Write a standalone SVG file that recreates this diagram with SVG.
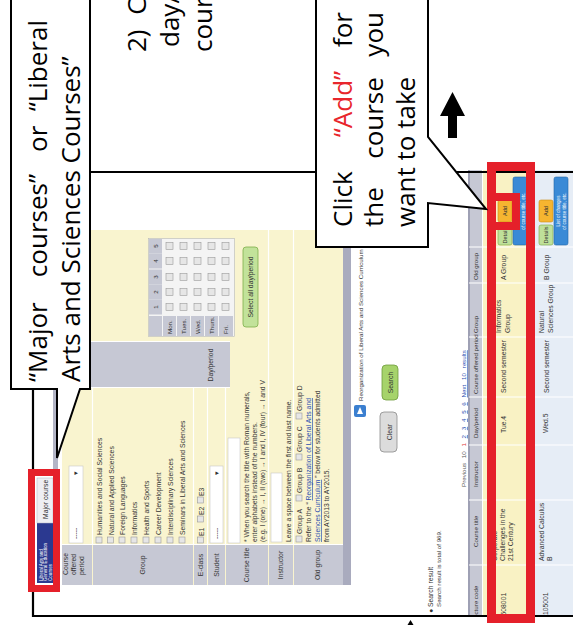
<svg xmlns="http://www.w3.org/2000/svg" width="573" height="625" viewBox="0 0 573 625">
<defs>
<style>
.t{font-family:"Liberation Sans",Arial,sans-serif;font-size:6.8px;fill:#333}
.s{font-size:6.2px}
.lk{fill:#2a4fb0;text-decoration:underline}
.lab{fill:#c6c8d4}
.cb{fill:#e6e6e6;stroke:#9a9a9a;stroke-width:0.6}
.sep{stroke:#fff;stroke-width:1.2}
.call{font-family:"Open Sans",sans-serif;font-size:26px;fill:#000}
.red{fill:none;stroke:#e5202a}
.co{fill:#fff;stroke:#000;stroke-width:2}
.dd{fill:#fff;stroke:#c8c8c8;stroke-width:0.6}
.det{fill:#bfe09a;stroke:#7aa840;stroke-width:0.6}
.add{fill:#f6b530;stroke:#c98a12;stroke-width:0.6}
.lst{fill:#3a8ad6;stroke:#2266aa;stroke-width:0.6}
.bt{font-family:"Liberation Sans",Arial,sans-serif;font-size:5.5px;fill:#333}
.wt{font-family:"Liberation Sans",Arial,sans-serif;font-size:4.6px;fill:#fff}
</style>
<clipPath id="shotclip"><rect x="8" y="0" width="620" height="573"/></clipPath>
</defs>
<rect width="573" height="625" fill="#fff"/>

<g id="screenshot" transform="translate(0,625) rotate(-90)">
<g clip-path="url(#shotclip)">
<!-- tabs -->
<g id="tabs">
<rect x="33" y="53" width="362" height="5" fill="#b3b5c6"/>
<rect x="42" y="37" width="60" height="16" fill="#2b3990"/>
<rect x="102" y="37" width="45" height="16" fill="#eeeef3" stroke="#b0b2c0" stroke-width="0.5"/>
<text class="wt" x="44" y="42.5">Liberal Arts and</text>
<text class="wt" x="44" y="47">General Education</text>
<text class="wt" x="44" y="51.5">Courses</text>
<text class="t" x="106" y="48" fill="#223">Major course</text>
</g>
<!-- search form -->
<g id="form">
<rect x="40" y="62" width="355" height="281" fill="#f9f4cf"/>
<rect class="lab" x="40" y="62" width="40" height="30"/>
<rect class="lab" x="40" y="93" width="40" height="100"/>
<rect class="lab" x="40" y="194" width="40" height="13"/>
<rect class="lab" x="40" y="208" width="40" height="17"/>
<rect class="lab" x="40" y="226" width="40" height="42"/>
<rect class="lab" x="40" y="269" width="40" height="24"/>
<rect class="lab" x="40" y="294" width="40" height="49"/>
<rect class="lab" x="238" y="62" width="45" height="168"/>
<path class="sep" d="M80 92.5H237M80 193.5H237M80 207.5H237M80 225.5H237M80 268.5H395M80 293.5H395M80.5 62V343M237.5 62V230M283.5 62V230"/>
<text class="t" x="50" y="68">Course</text>
<text class="t" x="50" y="76">offered</text>
<text class="t" x="50" y="84">period</text>
<text class="t" x="60" y="145" text-anchor="middle">Group</text>
<text class="t" x="60" y="203" text-anchor="middle">E-class</text>
<text class="t" x="60" y="219" text-anchor="middle">Student</text>
<text class="t" x="60" y="249" text-anchor="middle">Course title</text>
<text class="t" x="60" y="283" text-anchor="middle">Instructor</text>
<text class="t" x="60" y="320" text-anchor="middle">Old group</text>
<text class="t" x="260" y="213" text-anchor="middle">Day/period</text>
<rect class="dd" x="82" y="69" width="77" height="14"/>
<text class="t" x="86" y="78">-----</text>
<text class="t" x="150" y="78">▾</text>
<rect class="cb" x="82" y="96" width="6" height="6"/><text class="t" x="90" y="102">Humanities and Social Sciences</text>
<rect class="cb" x="82" y="107.5" width="6" height="6"/><text class="t" x="90" y="113.5">Natural and Applied Sciences</text>
<rect class="cb" x="82" y="119" width="6" height="6"/><text class="t" x="90" y="125">Foreign Languages</text>
<rect class="cb" x="82" y="131" width="6" height="6"/><text class="t" x="90" y="137">Informatics</text>
<rect class="cb" x="82" y="143" width="6" height="6"/><text class="t" x="90" y="149">Health and Sports</text>
<rect class="cb" x="82" y="155" width="6" height="6"/><text class="t" x="90" y="161">Career Development</text>
<rect class="cb" x="82" y="167" width="6" height="6"/><text class="t" x="90" y="173">Interdisciplinary Sciences</text>
<rect class="cb" x="82" y="179" width="6" height="6"/><text class="t" x="90" y="185">Seminars in Liberal Arts and Sciences</text>
<rect class="cb" x="82" y="197.5" width="6" height="6"/><text class="t" x="89" y="204">E1</text>
<rect class="cb" x="103" y="197.5" width="6" height="6"/><text class="t" x="110" y="204">E2</text>
<rect class="cb" x="122" y="197.5" width="6" height="6"/><text class="t" x="129" y="204">E3</text>
<rect class="dd" x="82" y="210" width="77" height="13"/>
<text class="t" x="86" y="219">-----</text>
<text class="t" x="150" y="219">▾</text>
<rect class="dd" x="82" y="228" width="105" height="12"/>
<text class="t" x="83" y="249">* When you search the title with Roman numerals,</text>
<text class="t" x="83" y="257">enter alphabets instead of the numbers.</text>
<text class="t" x="83" y="265">(e.g. I (one) → I, II (two) → I and I, IV (four) → I and V</text>
<rect class="dd" x="83" y="271" width="69" height="11"/>
<text class="t" x="83" y="291">Leave a space between the first and last name.</text>
<rect class="cb" x="83" y="296" width="6" height="6"/><text class="t" x="91" y="302">Group A</text>
<rect class="cb" x="124" y="296" width="6" height="6"/><text class="t" x="132" y="302">Group B</text>
<rect class="cb" x="165" y="296" width="6" height="6"/><text class="t" x="173" y="302">Group C</text>
<rect class="cb" x="206" y="296" width="6" height="6"/><text class="t" x="214" y="302">Group D</text>
<text class="t" x="83" y="311">Refer to the “ <tspan class="lk">Reorganization of Liberal Arts and</tspan></text>
<text class="t" x="83" y="320"><tspan class="lk">Sciences Curriculum</tspan> ” below for students admitted</text>
<text class="t" x="83" y="329">from AY2013 to AY2015.</text>
<!-- day/period grid -->
<rect x="288.5" y="148.5" width="98" height="86" fill="#f4f4f4" stroke="#b8b8b8" stroke-width="0.6"/>
<rect class="lab" x="289" y="149" width="20" height="13"/>
<rect class="lab" x="310.5" y="149" width="15" height="13"/>
<rect class="lab" x="325.5" y="149" width="15" height="13"/>
<rect class="lab" x="340.5" y="149" width="15" height="13"/>
<rect class="lab" x="356.5" y="149" width="15" height="13"/>
<rect class="lab" x="371.5" y="149" width="14.5" height="13"/>
<text class="t s" x="318" y="158" text-anchor="middle">1</text>
<text class="t s" x="333" y="158" text-anchor="middle">2</text>
<text class="t s" x="348" y="158" text-anchor="middle">3</text>
<text class="t s" x="364" y="158" text-anchor="middle">4</text>
<text class="t s" x="379" y="158" text-anchor="middle">5</text>
<rect class="lab" x="289" y="163" width="20" height="13"/>
<rect class="lab" x="289" y="177" width="20" height="13"/>
<rect class="lab" x="289" y="191" width="20" height="13"/>
<rect class="lab" x="289" y="205" width="20" height="13"/>
<rect class="lab" x="289" y="219" width="20" height="14"/>
<text class="t s" x="291" y="172">Mon.</text>
<text class="t s" x="291" y="186">Tues.</text>
<text class="t s" x="291" y="200">Wed.</text>
<text class="t s" x="291" y="214">Thurs.</text>
<text class="t s" x="291" y="228">Fri.</text>
<g id="grid-boxes">
<rect class="cb" x="314.5" y="166" width="7" height="7"/><rect class="cb" x="329.5" y="166" width="7" height="7"/><rect class="cb" x="344.5" y="166" width="7" height="7"/><rect class="cb" x="360.5" y="166" width="7" height="7"/><rect class="cb" x="375.5" y="166" width="7" height="7"/>
<rect class="cb" x="314.5" y="180" width="7" height="7"/><rect class="cb" x="329.5" y="180" width="7" height="7"/><rect class="cb" x="344.5" y="180" width="7" height="7"/><rect class="cb" x="360.5" y="180" width="7" height="7"/><rect class="cb" x="375.5" y="180" width="7" height="7"/>
<rect class="cb" x="314.5" y="194" width="7" height="7"/><rect class="cb" x="329.5" y="194" width="7" height="7"/><rect class="cb" x="344.5" y="194" width="7" height="7"/><rect class="cb" x="360.5" y="194" width="7" height="7"/><rect class="cb" x="375.5" y="194" width="7" height="7"/>
<rect class="cb" x="314.5" y="208" width="7" height="7"/><rect class="cb" x="329.5" y="208" width="7" height="7"/><rect class="cb" x="344.5" y="208" width="7" height="7"/><rect class="cb" x="360.5" y="208" width="7" height="7"/><rect class="cb" x="375.5" y="208" width="7" height="7"/>
<rect class="cb" x="314.5" y="222" width="7" height="7"/><rect class="cb" x="329.5" y="222" width="7" height="7"/><rect class="cb" x="344.5" y="222" width="7" height="7"/><rect class="cb" x="360.5" y="222" width="7" height="7"/><rect class="cb" x="375.5" y="222" width="7" height="7"/>
</g>
<rect x="298" y="243" width="80" height="15" rx="3" fill="#c2e29a" stroke="#7fae4a" stroke-width="0.8"/>
<text class="t" x="338" y="253" text-anchor="middle" fill="#2a3a1a">Select all day/period</text>
<rect x="40" y="343" width="355" height="8" fill="#a9abbe"/>
</g>
<!-- below form -->
<g id="actions">
<rect x="208" y="354" width="12" height="12" rx="2" fill="#3b7fd0"/>
<path d="M211 357L218 360L211 363Z" fill="#fff"/>
<text class="t s" x="224" y="363" fill="#2d4a8a">Reorganization of Liberal Arts and Sciences Curriculum</text>
<rect x="173" y="380" width="40" height="17" rx="4" fill="#dcdcdc" stroke="#8a8a8a" stroke-width="0.8"/>
<text class="t" x="193" y="391.5" text-anchor="middle" font-size="9" fill="#222">Clear</text>
<rect x="225" y="382" width="35" height="16" rx="4" fill="#a6d36b" stroke="#6e9c3c" stroke-width="0.8"/>
<text class="t" x="242.5" y="393" text-anchor="middle" fill="#222">Search</text>
<text class="t" x="12" y="433" font-size="9" fill="#333">● Search result</text>
<text class="t s" x="18" y="441">Search result is total of 969.</text>
<text class="t s" x="138" y="466" word-spacing="3"><tspan fill="#555">Previous 10</tspan> <tspan fill="#d33">1</tspan> <tspan class="lk">2</tspan> <tspan class="lk">3</tspan> <tspan class="lk">4</tspan> <tspan class="lk">5</tspan> <tspan class="lk">6</tspan> <tspan class="lk">Next 10 results</tspan></text>
</g>
<!-- results table -->
<g id="results">
<rect x="-5" y="468" width="460" height="14" fill="#c6c8d4"/>
<rect x="-5" y="468" width="460" height="2" fill="#9ea0b4"/>
<rect x="-5" y="483" width="460" height="44" fill="#f9f2c4"/>
<rect x="-5" y="528" width="460" height="50" fill="#e6edf6"/>
<path class="sep" d="M60 469V578M125 469V578M180 469V578M228 469V578M288 469V578M342 469V578M378 469V578"/>
<text class="t s" x="3.5" y="478">Lecture code</text>
<text class="t s" x="78" y="478">Course title</text>
<text class="t s" x="138" y="478">Instructor</text>
<text class="t s" x="187" y="478">Day/period</text>
<text class="t s" x="231" y="478">Course offered period</text>
<text class="t s" x="292" y="478">Group</text>
<text class="t s" x="345" y="478">Old group</text>
<text class="t" x="5" y="506">K508001</text>
<text class="t" x="64" y="497">Corporate</text>
<text class="t" x="64" y="505">Challenges in the</text>
<text class="t" x="64" y="513">21st Century</text>
<text class="t" x="192" y="506">Tue.4</text>
<text class="t" x="232" y="506">Second semester</text>
<text class="t" x="292" y="501">Informatics</text>
<text class="t" x="292" y="510">Group</text>
<text class="t" x="345" y="506">A Group</text>
<rect class="det" x="380" y="498" width="20" height="14" rx="2"/>
<text class="bt" x="390" y="507" text-anchor="middle">Details</text>
<rect class="add" x="403" y="498" width="22" height="14" rx="2"/>
<text class="bt" x="414" y="507" text-anchor="middle">Add</text>
<rect class="lst" x="380" y="513" width="68" height="14" rx="2"/>
<text class="wt" x="414" y="519" text-anchor="middle">List of changes</text>
<text class="wt" x="414" y="524.5" text-anchor="middle">of course title, etc.</text>
<text class="t" x="5" y="548">N105001</text>
<text class="t" x="64" y="544">Advanced Calculus</text>
<text class="t" x="64" y="552">B</text>
<text class="t" x="192" y="548">Wed.5</text>
<text class="t" x="232" y="549">Second semester</text>
<text class="t" x="292" y="544">Natural</text>
<text class="t" x="292" y="553">Sciences Group</text>
<text class="t" x="345" y="549">B Group</text>
<rect class="det" x="380" y="539" width="20" height="14" rx="2"/>
<text class="bt" x="390" y="548" text-anchor="middle">Details</text>
<rect class="add" x="403" y="539" width="22" height="14" rx="2"/>
<text class="bt" x="414" y="548" text-anchor="middle">Add</text>
<rect class="lst" x="380" y="554" width="68" height="14" rx="2"/>
<text class="wt" x="414" y="560" text-anchor="middle">List of changes</text>
<text class="wt" x="414" y="565.5" text-anchor="middle">of course title, etc.</text>
</g>
</g>
</g>

<g id="connectors">
<path d="M90 172H573M33 172V616H573" fill="none" stroke="#000" stroke-width="2.2"/>
<path id="up-arrow" d="M452.5 92L465 116H457V138H448V116H440Z" fill="#000"/>
<path d="M410.5 620L413.5 625H407.5Z" fill="#000"/>
</g>

<g id="highlights">
<rect class="red" x="31.5" y="472.5" width="25" height="116" stroke-width="7"/>
<rect class="red" x="491.5" y="166.5" width="39" height="452" stroke-width="9"/>
<rect class="red" x="491" y="197" width="25" height="29" stroke-width="8"/>
</g>

<g id="callout-tab">
<path class="co" d="M11 -3H90V389H80L57 458V389H11Z"/>
</g>
<g id="callout-add">
<path class="co" d="M316 -3H428V137L486 209L428 203V247H316Z"/>
</g>

<g id="callout-texts" class="call" transform="translate(0,625) rotate(-90)">
<text x="243" y="47">“Major</text>
<text x="451" y="47" text-anchor="end">courses”</text>
<text x="473" y="47">or</text>
<text x="605" y="47" text-anchor="end">“Liberal</text>
<text x="243" y="80">Arts and Sciences Courses”</text>
<text x="398" y="352">Click</text>
<text x="521" y="352" text-anchor="middle" fill="#e8262c">“Add”</text>
<text x="613" y="352" text-anchor="end">for</text>
<text x="398" y="383">the</text>
<text x="507" y="383" text-anchor="middle">course</text>
<text x="613" y="383" text-anchor="end">you</text>
<text x="398" y="415">want to take</text>
<text x="573" y="146" word-spacing="8">2) C</text>
<text x="578" y="179">day/</text>
<text x="573" y="212">cour</text>
</g>
</svg>
